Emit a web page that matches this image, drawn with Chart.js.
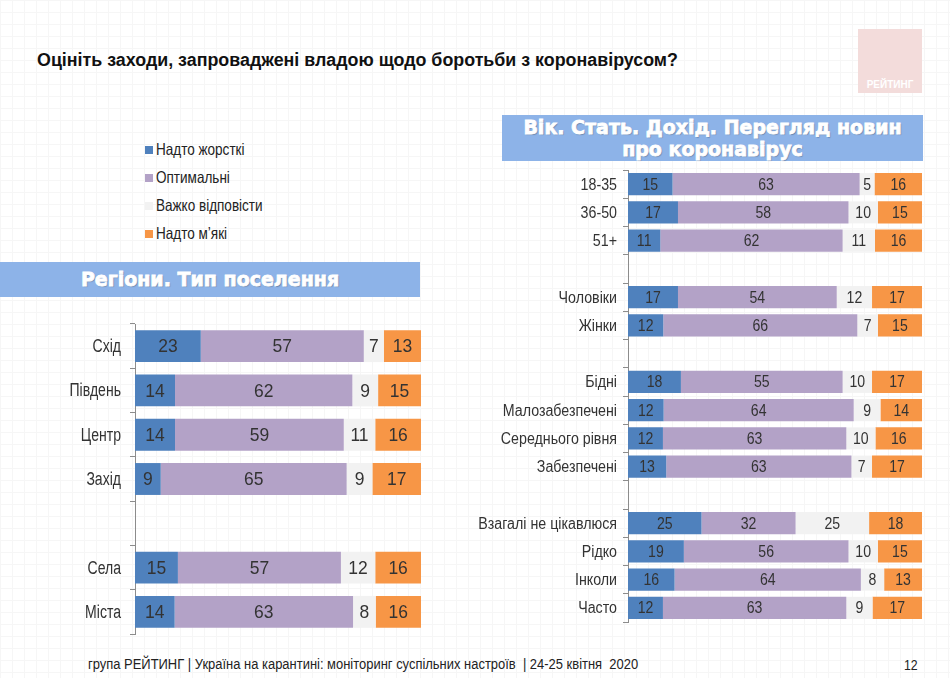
<!DOCTYPE html>
<html>
<head>
<meta charset="utf-8">
<script src="https://cdn.jsdelivr.net/npm/chart.js@4"></script>
<style>
  body {
    margin: 0;
    width: 950px;
    height: 678px;
    overflow: hidden;
    background-color: #fff;
    background-image:
      linear-gradient(#f6f6f6 1px, transparent 1px),
      linear-gradient(90deg, #f6f6f6 1px, transparent 1px);
    background-size: 12px 12px;
    font-family: "Liberation Sans", Arial, sans-serif;
    position: relative;
  }
  .narrow { display: inline-block; transform: scaleX(0.82); transform-origin: left center; white-space: nowrap; }
  .title {
    position: absolute; left: 37px; top: 50px;
    font-weight: bold; font-size: 17.85px; color: #111; white-space: nowrap;
  }
  .logo {
    position: absolute; left: 858px; top: 29px; width: 64px; height: 64px;
    background: #f3dcdb;
  }
  .logo span {
    position: absolute; bottom: 3px; left: 0; right: 0; text-align: center;
    color: #fff; font-weight: bold; font-size: 10px;
  }
  .banner {
    position: absolute; background: #8db3e8; color: #fff; text-align: center;
    font-family: "DejaVu Sans", sans-serif; font-weight: 900; font-size: 19px;
    -webkit-text-stroke: 0.8px #fff;
    text-shadow: 1px 1px 1px rgba(0,0,0,0.25);
  }
  #legend { position: absolute; left: 145px; top: 140px; }
  .leg-item { height: 28px; font-size: 16.5px; color: #222; display: flex; align-items: flex-start; }
  .leg-item i { display: inline-block; width: 8px; height: 8px; margin: 6px 3px 0 0; flex: none; }
  .footer { position: absolute; left: 88px; top: 656px; font-size: 14px; color: #222; }
  .footer .narrow { transform: scaleX(0.925); }
  .page { position: absolute; left: 904px; top: 656px; font-size: 15px; color: #222; }
</style>
</head>
<body>
<div class="title">Оцініть заходи, запроваджені владою щодо боротьби з коронавірусом?</div>
<div class="logo"><span>РЕЙТИНГ</span></div>
<div class="banner" style="left:0;top:262px;width:420px;height:35px;line-height:35px;">Регіони. Тип поселення</div>
<div class="banner" style="left:502px;top:115px;width:421px;height:45px;line-height:22px;padding-top:1px;">Вік. Стать. Дохід. Перегляд новин<br>про коронавірус</div>
<div id="legend"></div>
<div class="footer"><span class="narrow">група РЕЙТИНГ | Україна на карантині: моніторинг суспільних настроїв &nbsp;| 24-25 квітня&nbsp; 2020</span></div>
<div class="page"><span class="narrow">12</span></div>

<div style="position:absolute;left:0;top:320px;width:430px;height:320px;"><canvas id="leftChart"></canvas></div>
<div style="position:absolute;left:470px;top:164px;width:460px;height:465px;"><canvas id="rightChart"></canvas></div>

<script>
// Series names and colours
const seriesNames = ["Надто жорсткі", "Оптимальні", "Важко відповісти", "Надто м’які"]
const seriesColors = ["#4f81bd", "#b3a2c7", "#f2f2f2", "#f79646"]

// Regions / settlement type
const leftLabels = ["Схід", "Південь", "Центр", "Захід", "", "Села", "Міста"]
const leftHarsh = [23, 14, 14, 9, null, 15, 14]
const leftOptimal = [57, 62, 59, 65, null, 57, 63]
const leftHard = [7, 9, 11, 9, null, 12, 8]
const leftSoft = [13, 15, 16, 17, null, 16, 16]

// Age, sex, income, news watching
const rightLabels = ["18-35", "36-50", "51+", "", "Чоловіки", "Жінки", "", "Бідні", "Малозабезпечені",
  "Середнього рівня", "Забезпечені", "", "Взагалі не цікавлюся", "Рідко", "Інколи", "Часто"]
const rightHarsh = [15, 17, 11, null, 17, 12, null, 18, 12, 12, 13, null, 25, 19, 16, 12]
const rightOptimal = [63, 58, 62, null, 54, 66, null, 55, 64, 63, 63, null, 32, 56, 64, 63]
const rightHard = [5, 10, 11, null, 12, 7, null, 10, 9, 10, 7, null, 25, 10, 8, 9]
const rightSoft = [16, 15, 16, null, 17, 15, null, 17, 14, 16, 17, null, 18, 15, 13, 17]

const FONT = "'Liberation Sans', Arial, sans-serif"

// Legend
document.getElementById("legend").innerHTML = seriesNames
  .map((n, i) => `<div class="leg-item"><i style="background:${seriesColors[i]}"></i><span class="narrow">${n}</span></div>`)
  .join("")

// condensed text (the original uses Arial Narrow)
function narrowText(ctx, text, x, y, sx) {
  ctx.save()
  ctx.translate(x, y)
  ctx.scale(sx, 1)
  ctx.fillText(text, 0, 0)
  ctx.restore()
}

// Category labels and values in the middle of every segment
const textPlugin = {
  id: "textPlugin",
  afterDatasetsDraw(chart, args, opts) {
    const ctx = chart.ctx
    ctx.save()
    ctx.fillStyle = "#333"
    ctx.textBaseline = "middle"
    ctx.textAlign = "right"
    ctx.font = opts.tickSize + "px " + FONT
    const y = chart.scales.y
    chart.data.labels.forEach((lab, i) => {
      narrowText(ctx, lab, chart.chartArea.left - opts.tickGap, y.getPixelForValue(i) + 1, opts.tickScale)
    })
    ctx.textAlign = "center"
    ctx.font = opts.valueSize + "px " + FONT
    chart.data.datasets.forEach((ds, di) => {
      const meta = chart.getDatasetMeta(di)
      meta.data.forEach((bar, i) => {
        const v = ds.raw[i]
        if (v == null) return
        narrowText(ctx, v, (bar.x + bar.base) / 2, bar.y + 1, opts.valueScale)
      })
    })
    ctx.restore()
  },
}

function makeChart(id, labels, series, yWidth, padding, barPct, text) {
  // 100% stacked: bar lengths are shares of the row total, labels keep the raw values
  const totals = labels.map((_, i) => series.reduce((s, arr) => s + (arr[i] || 0), 0))
  return new Chart(document.getElementById(id), {
    type: "bar",
    data: {
      labels: labels,
      datasets: series.map((arr, k) => ({
        label: seriesNames[k],
        raw: arr,
        data: arr.map((v, i) => (v == null ? null : (v / totals[i]) * 100)),
        backgroundColor: seriesColors[k],
        barPercentage: barPct,
        categoryPercentage: 1,
      })),
    },
    options: {
      indexAxis: "y",
      responsive: true,
      maintainAspectRatio: false,
      animation: false,
      layout: { padding: padding },
      plugins: { legend: { display: false }, tooltip: { enabled: false }, textPlugin: text },
      scales: {
        x: { stacked: true, min: 0, max: 100, display: false },
        y: {
          stacked: true,
          afterFit: (scale) => { scale.width = yWidth },
          grid: { offset: true, drawOnChartArea: false, tickLength: 5, color: "#8c8c8c" },
          border: { color: "#8c8c8c" },
          ticks: { display: false },
        },
      },
    },
    plugins: [textPlugin],
  })
}

makeChart("leftChart", leftLabels, [leftHarsh, leftOptimal, leftHard, leftSoft], 135,
  { top: 4, bottom: 6, right: 9, left: 0 }, 0.72,
  { tickSize: 18, tickScale: 0.78, tickGap: 14, valueSize: 19, valueScale: 0.92 })
makeChart("rightChart", rightLabels, [rightHarsh, rightOptimal, rightHard, rightSoft], 158,
  { top: 6, bottom: 7, right: 8, left: 0 }, 0.78,
  { tickSize: 16, tickScale: 0.89, tickGap: 11, valueSize: 16, valueScale: 0.88 })
</script>
</body>
</html>
